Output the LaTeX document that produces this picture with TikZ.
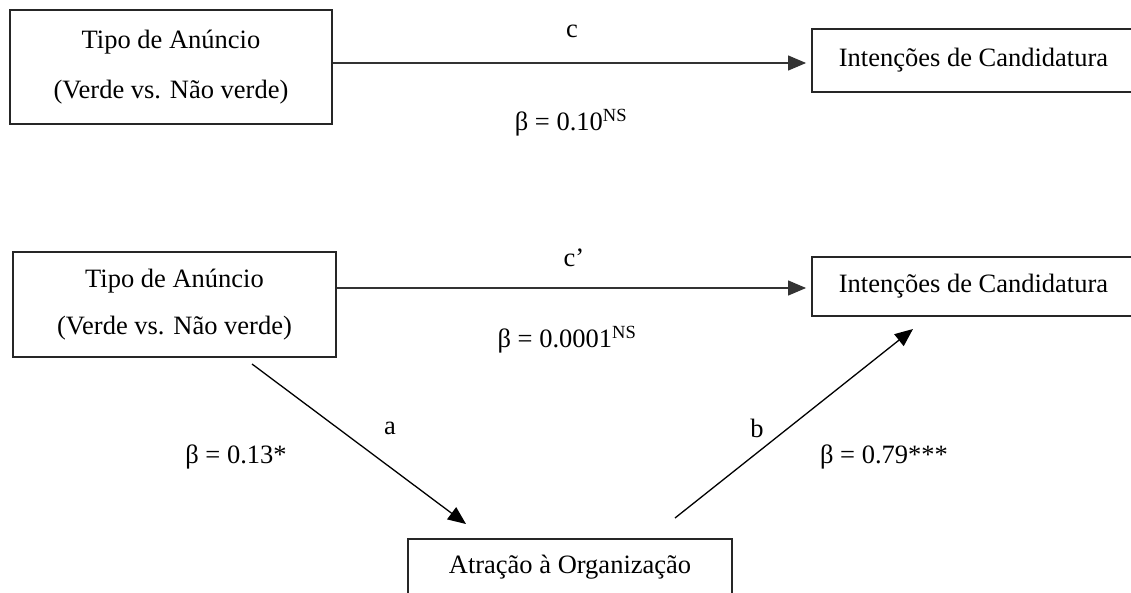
\documentclass[tikz,border=0pt]{standalone}
\usepackage{fontspec}
\setmainfont{Liberation Serif}
\usetikzlibrary{arrows.meta}
\begin{document}
\begin{tikzpicture}[x=1pt,y=-1pt,
  box/.style={draw=black!85,line width=1.9pt,rectangle,inner sep=0pt,align=center},
  lbl/.style={inner sep=0pt,font=\fontsize{26.5}{32}\selectfont},
  conn/.style={draw=black!80,line width=1.3pt,-{Triangle[length=18pt,width=15pt]}}]
\useasboundingbox (0,0) rectangle (1131,592);
% boxes
\node[box,minimum width=322pt,minimum height=114pt,font=\fontsize{26.5}{50}\selectfont] (tl) at (171,67) {Tipo de Anúncio\\(Verde vs. Não verde)};
\node[box,minimum width=323pt,minimum height=63pt,font=\fontsize{26.5}{32}\selectfont] (tr) at (973.5,60.5) {Intenções de Candidatura};
\node[box,minimum width=323pt,minimum height=105pt,font=\fontsize{26.5}{47}\selectfont] (ml) at (174.5,304.5) {Tipo de Anúncio\\(Verde vs. Não verde)};
\node[box,minimum width=323pt,minimum height=59pt,font=\fontsize{26.5}{32}\selectfont] (mr) at (973.5,286.5) {Intenções de Candidatura};
\node[box,minimum width=324pt,minimum height=70pt,anchor=north] (bt) at (570,538) {};
\node[lbl] (btt) at (570,567) {Atração à Organização};
% connectors
\coordinate (c1s) at (tl.east |- 0,63);
\coordinate (c1e) at (tr.west |- 0,63);
\draw[conn,shorten >=5pt] (c1s) -- (c1e);
\coordinate (c2s) at (ml.east |- 0,288);
\coordinate (c2e) at (mr.west |- 0,288);
\draw[conn,shorten >=5pt] (c2s) -- (c2e);
\coordinate (as) at (252,364);
\coordinate (ae) at (466,524);
\draw[conn,draw=black] (as) -- (ae);
\coordinate (bs) at (675,518);
\coordinate (be) at (913,329);
\draw[conn,draw=black] (bs) -- (be);
% labels
\node[lbl] (lc) at (572,31) {c};
\node[lbl] (lcb) at (571,123) {β = 0.10\textsuperscript{NS}};
\node[lbl] (lcp) at (574,258) {c’};
\node[lbl] (lcpb) at (567,340) {β = 0.0001\textsuperscript{NS}};
\node[lbl] (la) at (390,428) {a};
\node[lbl] (lab) at (236,457) {β = 0.13*};
\node[lbl] (lb) at (757,428) {b};
\node[lbl] (lbb) at (884,457) {β = 0.79***};
\end{tikzpicture}
\end{document}
